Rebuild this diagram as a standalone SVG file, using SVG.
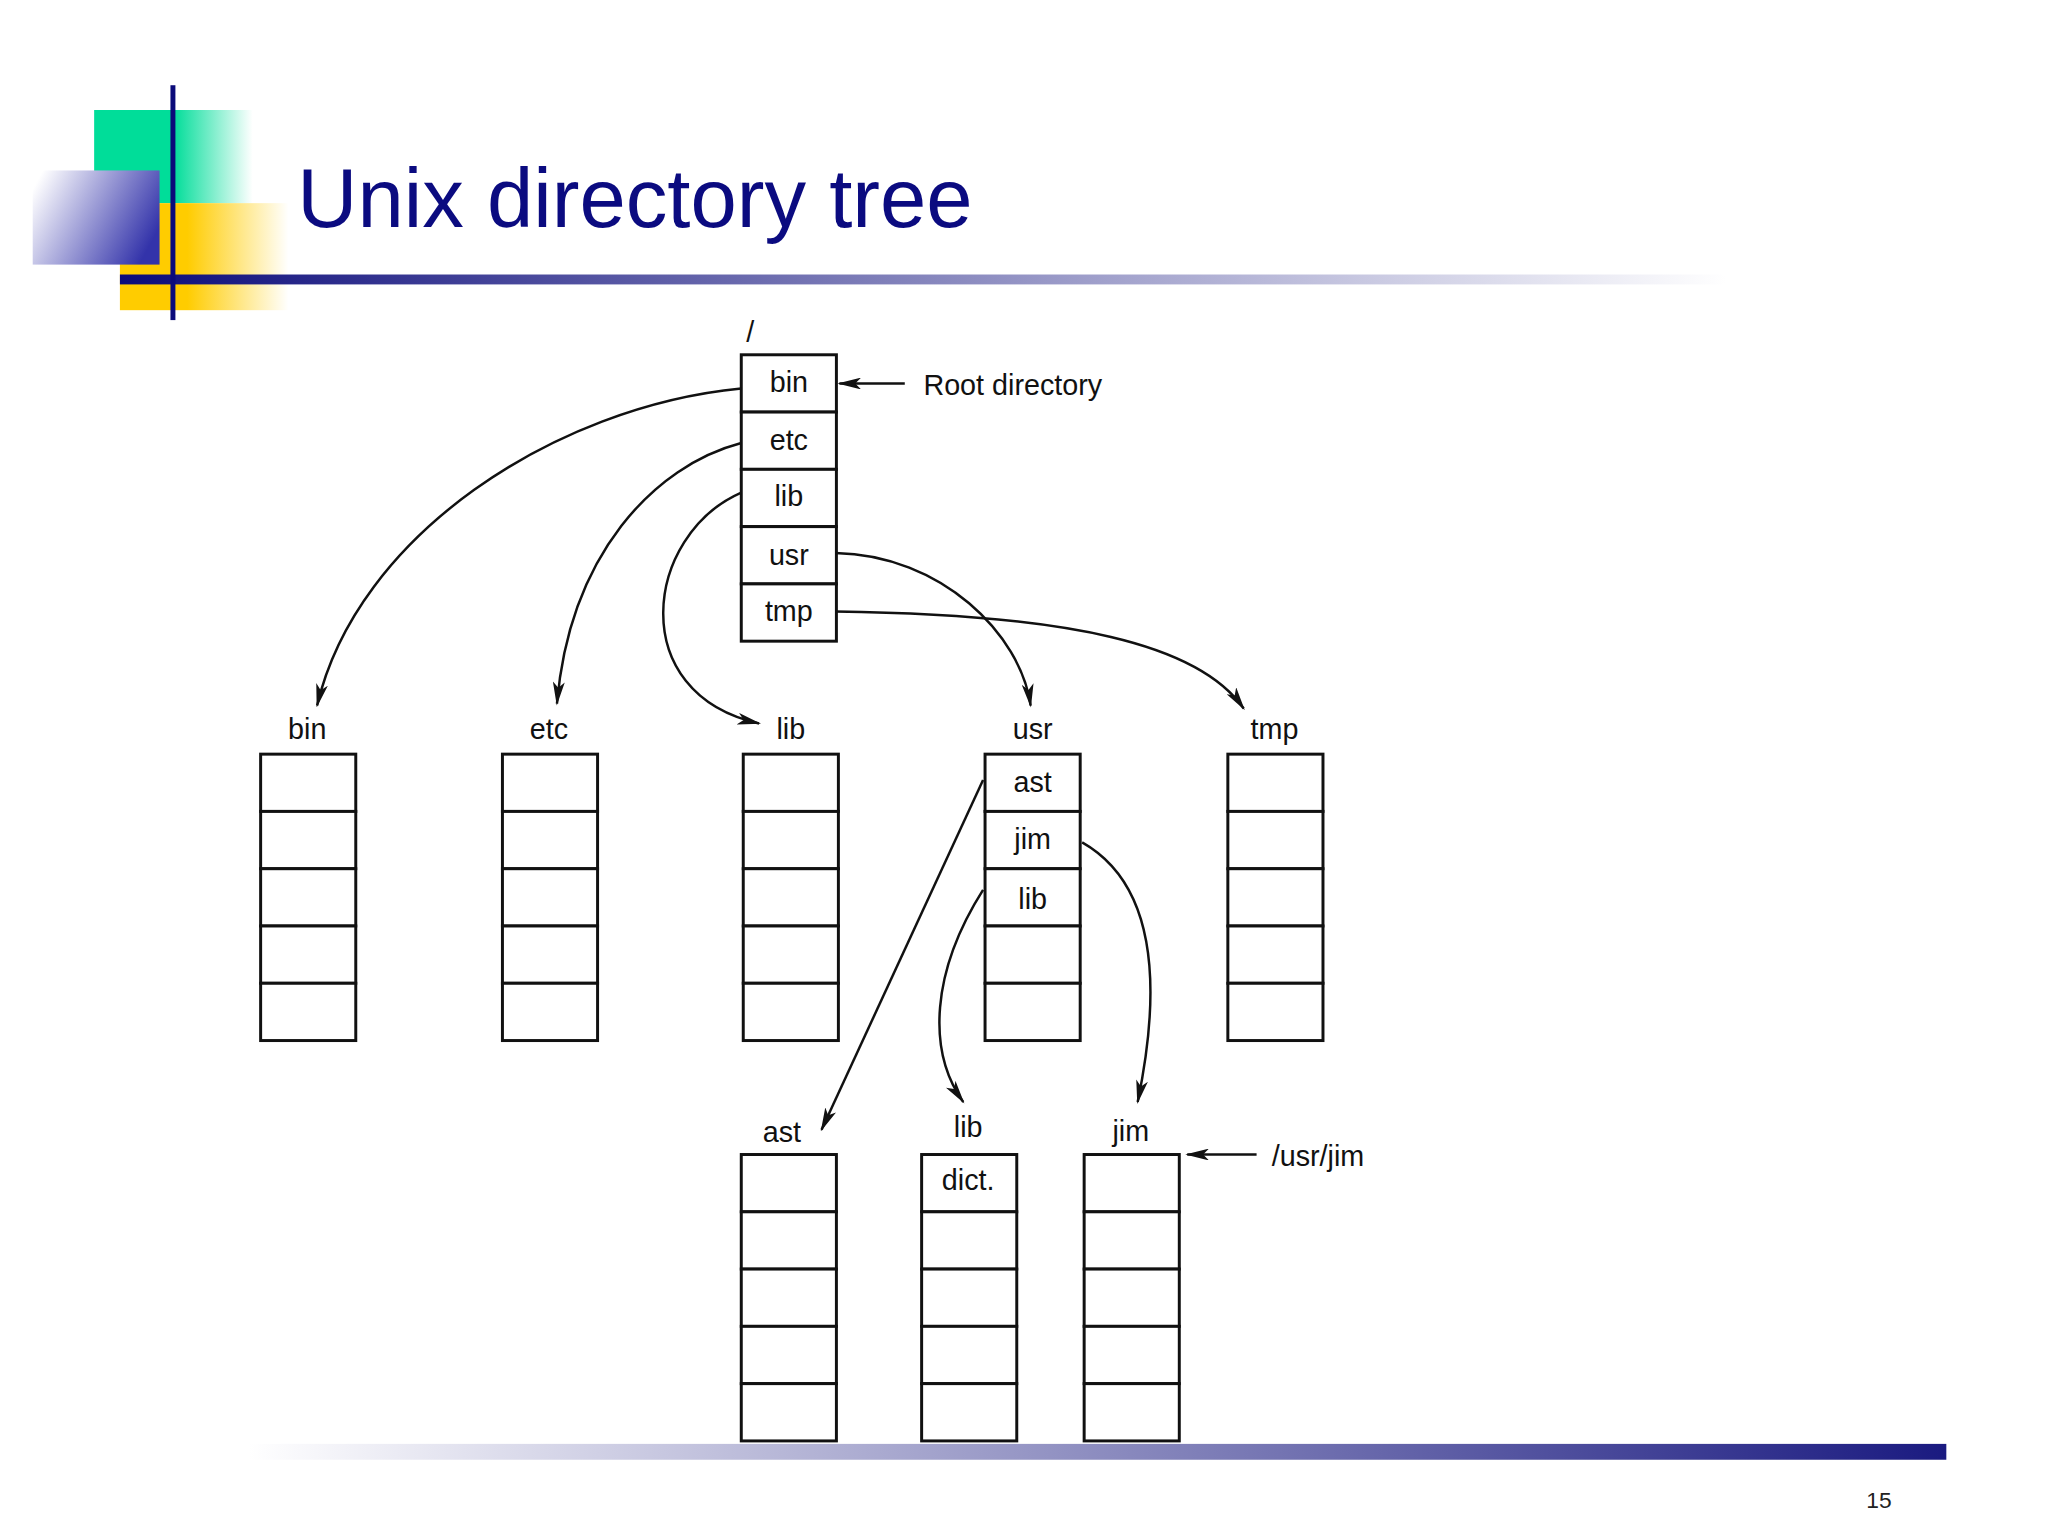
<svg xmlns="http://www.w3.org/2000/svg" width="2048" height="1536" viewBox="0 0 2048 1536">
<style>
.c{fill:#fff;stroke:#111;stroke-width:3}
.t{font-family:"Liberation Sans",Arial,sans-serif;font-size:29px;fill:#111;text-anchor:middle}
.e{fill:none;stroke:#111;stroke-width:2.5}
</style>
<defs>
<marker id="a" markerWidth="24" markerHeight="12" refX="22" refY="6" orient="auto" markerUnits="userSpaceOnUse"><path d="M0,0 L24,6 L0,12 L6,6 Z" fill="#111"/></marker>
<linearGradient id="g1" x1="0" x2="1"><stop offset="0" stop-color="#0b0b7a"/><stop offset="1" stop-color="#fff"/></linearGradient>
<linearGradient id="g2" x1="0" x2="1"><stop offset="0" stop-color="#fff"/><stop offset="1" stop-color="#1a1a80"/></linearGradient>
<linearGradient id="gg" x1="0" x2="1"><stop offset="0.5" stop-color="#00dd99"/><stop offset="1" stop-color="#fff"/></linearGradient>
<linearGradient id="gy" x1="0" x2="1"><stop offset="0.4" stop-color="#ffcc00"/><stop offset="1" stop-color="#fff"/></linearGradient>
<linearGradient id="gb" x1="1" y1="0.6" x2="0" y2="0.2"><stop offset="0" stop-color="#3333aa"/><stop offset="1" stop-color="#fff"/></linearGradient>
<g id="box"><rect class="c" x="0" y="0" width="96" height="57.8"/><rect class="c" x="0" y="57.8" width="96" height="57.8"/><rect class="c" x="0" y="115.6" width="96" height="57.8"/><rect class="c" x="0" y="173.4" width="96" height="57.8"/><rect class="c" x="0" y="231.2" width="96" height="57.8"/></g>
</defs>
<g transform="scale(0.991)">
<g id="decor">
<rect x="95" y="111" width="160" height="94" fill="url(#gg)"/>
<rect x="121" y="205" width="170" height="108" fill="url(#gy)"/>
<rect x="33" y="172" width="128" height="95" fill="url(#gb)"/>
<rect x="121" y="277" width="1621" height="10" fill="url(#g1)"/>
<rect x="172" y="86" width="5" height="237" fill="#0b0b7a"/>
<rect x="251" y="1457" width="1713" height="16" fill="url(#g2)"/>
<text x="300" y="229" font-family="Liberation Sans,Arial,sans-serif" font-size="84" fill="#0b0b80">Unix directory tree</text>
<text x="1896" y="1522" font-family="Liberation Sans,Arial,sans-serif" font-size="23" fill="#222" text-anchor="middle">15</text>
</g>
<g id="root"><use href="#box" x="748" y="358"/>
<text class="t" x="757" y="345">/</text>
<text class="t" x="796" y="396">bin</text><text class="t" x="796" y="454">etc</text><text class="t" x="796" y="511">lib</text><text class="t" x="796" y="570">usr</text><text class="t" x="796" y="627">tmp</text>
<text class="t" x="1022" y="399">Root directory</text></g>
<g id="bin"><use href="#box" x="263" y="761"/><text class="t" x="310" y="746">bin</text></g>
<g id="etc"><use href="#box" x="507" y="761"/><text class="t" x="554" y="746">etc</text></g>
<g id="lib"><use href="#box" x="750" y="761"/><text class="t" x="798" y="746">lib</text></g>
<g id="usr"><use href="#box" x="994" y="761"/><text class="t" x="1042" y="746">usr</text>
<text class="t" x="1042" y="799">ast</text><text class="t" x="1042" y="857">jim</text><text class="t" x="1042" y="917">lib</text></g>
<g id="tmp"><use href="#box" x="1239" y="761"/><text class="t" x="1286" y="746">tmp</text></g>
<g id="ast"><use href="#box" x="748" y="1165"/><text class="t" x="789" y="1152">ast</text></g>
<g id="lib2"><use href="#box" x="930" y="1165"/><text class="t" x="977" y="1147">lib</text><text class="t" x="977" y="1201">dict.</text></g>
<g id="jim"><use href="#box" x="1094" y="1165"/><text class="t" x="1141" y="1151">jim</text><text class="t" x="1330" y="1177">/usr/jim</text></g>
<g id="connectors">
<path class="e" marker-end="url(#a)" d="M913,387 L847,387"/>
<path class="e" marker-end="url(#a)" d="M1268,1165 L1198,1165"/>
<path class="e" marker-end="url(#a)" d="M748,392 C560,410 360,540 320,712"/>
<path class="e" marker-end="url(#a)" d="M748,447 C660,470 575,560 562,710"/>
<path class="e" marker-end="url(#a)" d="M748,497 C650,540 630,700 766,730"/>
<path class="e" marker-end="url(#a)" d="M843,558 C950,560 1030,640 1040,712"/>
<path class="e" marker-end="url(#a)" d="M843,617 C1080,620 1210,650 1255,715"/>
<path class="e" marker-end="url(#a)" d="M992,787 L829,1140"/>
<path class="e" marker-end="url(#a)" d="M992,898 C940,980 935,1060 972,1112"/>
<path class="e" marker-end="url(#a)" d="M1092,850 C1180,900 1165,1030 1148,1112"/>
</g>
</g>
</svg>
